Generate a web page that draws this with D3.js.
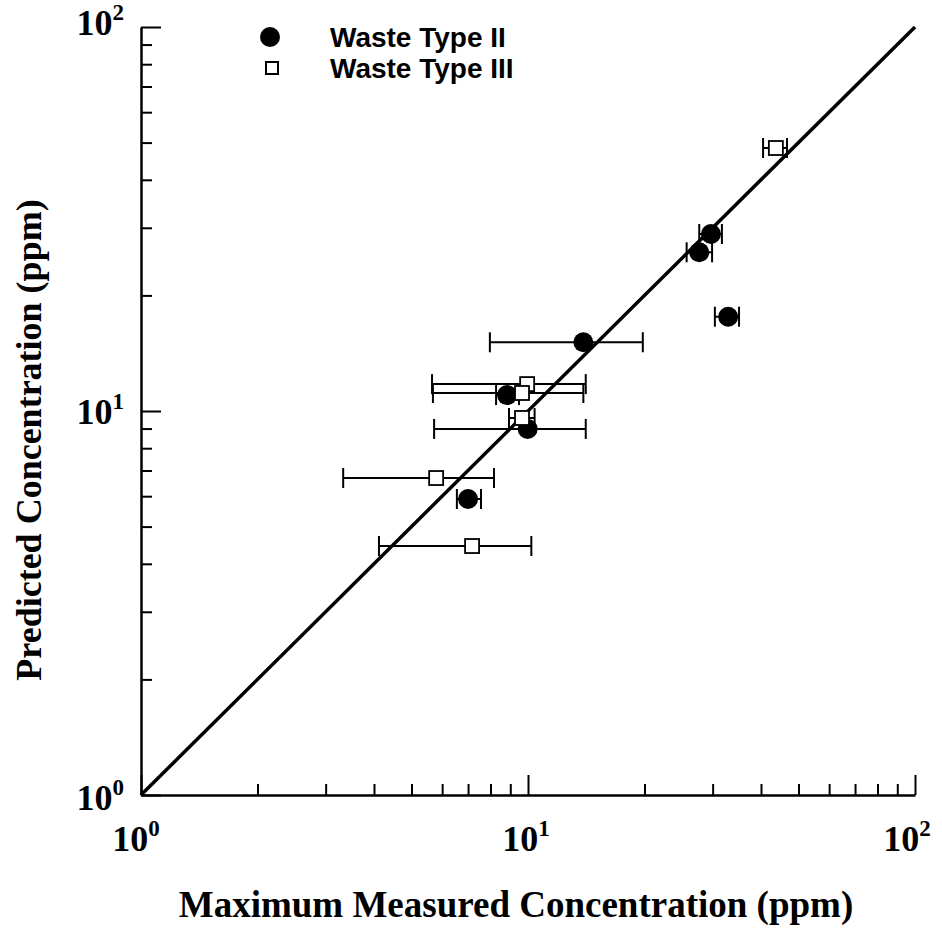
<!DOCTYPE html>
<html><head><meta charset="utf-8">
<script src="https://cdn.jsdelivr.net/npm/d3@7"></script>
<style>body{margin:0;background:#fff}svg{display:block}</style>
</head><body>
<script>
// Waste Type II (filled circles)
const typeII_x   = [29.7, 27.7, 32.9, 13.9, 8.83, 9.98, 7.0];
const typeII_y   = [28.9, 25.9, 17.6, 15.1, 11.0, 8.98, 5.90];
const typeII_xlo = [27.7, 25.7, 30.4, 7.97, 8.27, 5.72, 6.55];
const typeII_xhi = [31.7, 29.9, 35.1, 19.8, 9.48, 14.1, 7.56];
// Waste Type III (open squares)
const typeIII_x   = [43.7, 9.95, 9.65, 9.65, 5.79, 7.17];
const typeIII_y   = [48.4, 11.75, 11.14, 9.59, 6.69, 4.45];
const typeIII_xlo = [40.5, 5.65, 5.68, 8.93, 3.33, 4.12];
const typeIII_xhi = [46.7, 14.1, 13.9, 10.4, 8.17, 10.2];
const majorTicks = [1, 10, 100];
const majorExp = ["0", "1", "2"];
const legendLabels = ["Waste Type II", "Waste Type III"];
const xTitle = "Maximum Measured Concentration (ppm)";
const yTitle = "Predicted Concentration (ppm)";

const W = 942, H = 934;
const svg = d3.select("body").append("svg").attr("width", W).attr("height", H);
const x = d3.scaleLog().domain([1, 100]).range([141, 915]);
const y = d3.scaleLog().domain([1, 100]).range([795, 27]);
const serif = "'Liberation Serif','Times New Roman',serif";

// axes
const xAxis = svg.append("g").attr("transform", `translate(0,${y(1)})`)
  .call(d3.axisBottom(x).tickValues(x.ticks()).tickFormat("").tickSizeOuter(0));
xAxis.select(".domain").attr("stroke-width", 2.5);
xAxis.selectAll(".tick line").attr("stroke-width", 2)
  .attr("y2", d => majorTicks.includes(d) ? -20 : -11);
const yAxis = svg.append("g").attr("transform", `translate(${x(1)},0)`)
  .call(d3.axisLeft(y).tickValues(y.ticks()).tickFormat("").tickSizeOuter(0));
yAxis.select(".domain").attr("stroke-width", 2.5);
yAxis.selectAll(".tick line").attr("stroke-width", 2)
  .attr("x2", d => majorTicks.includes(d) ? 20 : 11);

// tick labels
function powLabel(g, xx, yy, exp, anchor) {
  const t = g.append("text").attr("x", xx).attr("y", yy)
    .attr("font-family", serif).attr("font-weight", "bold").attr("font-size", 36)
    .attr("text-anchor", anchor);
  t.append("tspan").text("10");
  t.append("tspan").attr("dy", -15).attr("font-size", 23).text(exp);
}
const xLabelDx = [-5, -2, -8];
const yLabelY = [810, 424, 35];
majorTicks.forEach((v, i) => {
  powLabel(svg, x(v) + xLabelDx[i], 851, majorExp[i], "middle");
  powLabel(svg, 124, yLabelY[i], majorExp[i], "end");
});

// identity line
svg.append("line").attr("x1", x(1)).attr("y1", y(1)).attr("x2", x(100)).attr("y2", y(100))
  .attr("stroke", "#000").attr("stroke-width", 3.5);

// error bars
function errBars(xs, ys, lo, hi) {
  xs.forEach((_, i) => {
    const g = svg.append("g").attr("stroke", "#000").attr("stroke-width", 2);
    g.append("line").attr("x1", x(lo[i])).attr("x2", x(hi[i])).attr("y1", y(ys[i])).attr("y2", y(ys[i]));
    [lo[i], hi[i]].forEach(v => g.append("line").attr("x1", x(v)).attr("x2", x(v))
      .attr("y1", y(ys[i]) - 10).attr("y2", y(ys[i]) + 10));
  });
}
errBars(typeII_x, typeII_y, typeII_xlo, typeII_xhi);
errBars(typeIII_x, typeIII_y, typeIII_xlo, typeIII_xhi);

// markers
typeII_x.forEach((v, i) => svg.append("circle").attr("cx", x(v)).attr("cy", y(typeII_y[i]))
  .attr("r", 10).attr("fill", "#000"));
typeIII_x.forEach((v, i) => svg.append("rect").attr("x", x(v) - 7).attr("y", y(typeIII_y[i]) - 7)
  .attr("width", 14).attr("height", 14).attr("fill", "#fff").attr("stroke", "#000").attr("stroke-width", 1.8));

// legend
svg.append("circle").attr("cx", 270).attr("cy", 37).attr("r", 10).attr("fill", "#000");
svg.append("rect").attr("x", 266).attr("y", 62).attr("width", 12).attr("height", 12)
  .attr("fill", "#fff").attr("stroke", "#000").attr("stroke-width", 2);
legendLabels.forEach((l, i) => svg.append("text").attr("x", 330).attr("y", 47 + i * 31)
  .attr("font-family", "'Liberation Sans',Arial,sans-serif").attr("font-weight", "bold")
  .attr("font-size", 28).text(l));

// axis titles
svg.append("text").attr("x", 516).attr("y", 917).attr("text-anchor", "middle")
  .attr("font-family", serif).attr("font-weight", "bold").attr("font-size", 37).text(xTitle);
svg.append("text").attr("transform", "translate(41,440) rotate(-90)").attr("text-anchor", "middle")
  .attr("font-family", serif).attr("font-weight", "bold").attr("font-size", 36).text(yTitle);
</script>
</body></html>
